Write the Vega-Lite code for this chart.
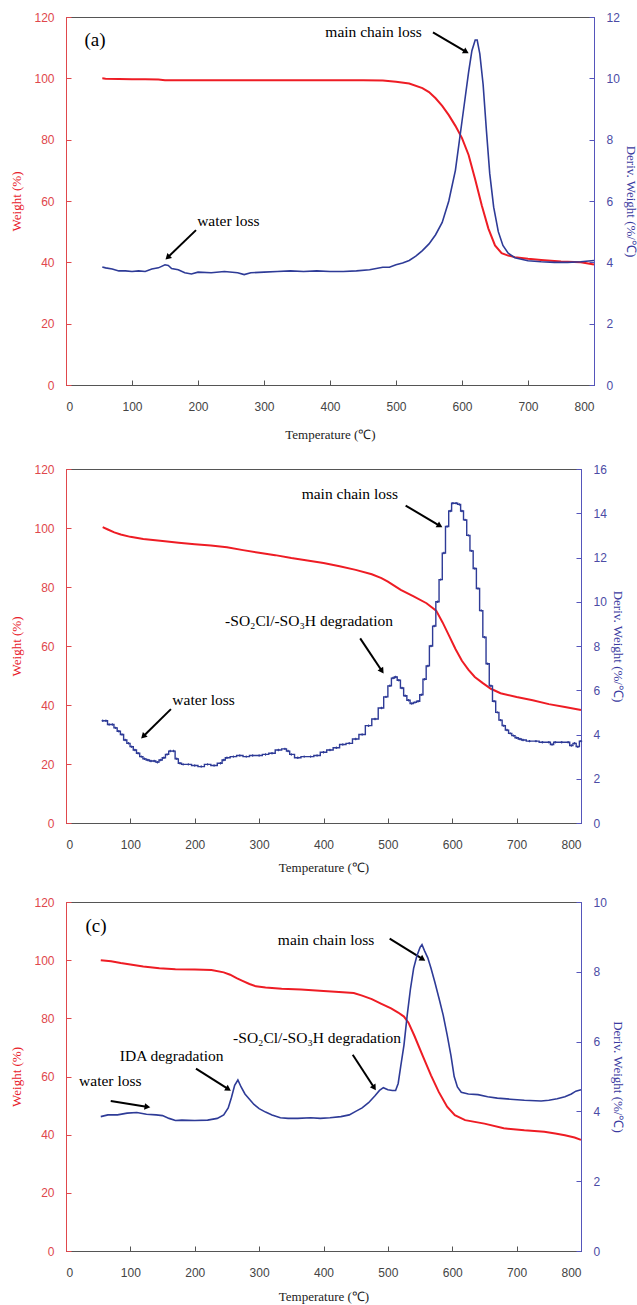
{
"$schema": "https://vega.github.io/schema/vega-lite/v6.json",
"padding": {"left": 10, "top": 10, "right": 0, "bottom": 0},
"spacing": 20,
"config": {
  "view": {"stroke": "#555", "strokeWidth": 1},
  "axis": {"grid": false, "labelFont": "Liberation Sans", "labelFontSize": 12, "titleFont": "Liberation Serif", "titleFontSize": 13, "titleFontWeight": "normal", "tickSize": -5}
},
"datasets": {
  "aw": [{"t":55,"w":100},{"t":60,"w":99.9},{"t":80,"w":99.8},{"t":100,"w":99.7},{"t":120,"w":99.7},{"t":140,"w":99.6},{"t":150,"w":99.4},{"t":200,"w":99.4},{"t":250,"w":99.4},{"t":300,"w":99.4},{"t":350,"w":99.4},{"t":400,"w":99.4},{"t":450,"w":99.4},{"t":480,"w":99.3},{"t":500,"w":98.9},{"t":520,"w":98.3},{"t":540,"w":96.8},{"t":550,"w":95.5},{"t":560,"w":93.5},{"t":570,"w":91},{"t":580,"w":88},{"t":590,"w":84.5},{"t":600,"w":80.5},{"t":610,"w":75},{"t":620,"w":67},{"t":630,"w":58.5},{"t":640,"w":51},{"t":650,"w":45.5},{"t":660,"w":43},{"t":670,"w":42.2},{"t":680,"w":41.7},{"t":700,"w":41.2},{"t":720,"w":40.8},{"t":750,"w":40.3},{"t":780,"w":40},{"t":800,"w":39.3}],
  "ad": [{"t":55,"d":3.85},{"t":60,"d":3.82},{"t":70,"d":3.78},{"t":80,"d":3.72},{"t":90,"d":3.72},{"t":100,"d":3.7},{"t":110,"d":3.72},{"t":120,"d":3.7},{"t":130,"d":3.78},{"t":140,"d":3.82},{"t":150,"d":3.92},{"t":155,"d":3.9},{"t":160,"d":3.8},{"t":170,"d":3.76},{"t":180,"d":3.66},{"t":190,"d":3.62},{"t":200,"d":3.68},{"t":220,"d":3.66},{"t":240,"d":3.7},{"t":260,"d":3.66},{"t":270,"d":3.6},{"t":280,"d":3.66},{"t":300,"d":3.68},{"t":320,"d":3.7},{"t":340,"d":3.72},{"t":360,"d":3.7},{"t":380,"d":3.72},{"t":400,"d":3.7},{"t":420,"d":3.7},{"t":440,"d":3.72},{"t":460,"d":3.76},{"t":470,"d":3.8},{"t":480,"d":3.84},{"t":490,"d":3.84},{"t":500,"d":3.92},{"t":510,"d":3.98},{"t":520,"d":4.06},{"t":530,"d":4.2},{"t":540,"d":4.38},{"t":550,"d":4.6},{"t":560,"d":4.9},{"t":570,"d":5.3},{"t":580,"d":6.0},{"t":590,"d":7.0},{"t":600,"d":8.6},{"t":605,"d":9.4},{"t":610,"d":10.2},{"t":615,"d":10.9},{"t":620,"d":11.25},{"t":623,"d":11.25},{"t":627,"d":10.8},{"t":632,"d":9.8},{"t":637,"d":8.3},{"t":642,"d":6.9},{"t":648,"d":5.8},{"t":655,"d":5.0},{"t":662,"d":4.55},{"t":670,"d":4.3},{"t":680,"d":4.15},{"t":690,"d":4.1},{"t":700,"d":4.05},{"t":720,"d":4.02},{"t":740,"d":4.0},{"t":760,"d":4.0},{"t":780,"d":4.02},{"t":800,"d":4.06}],
  "a_ann": [
    {"label":"main chain loss","tx":466,"wy":115,"t1":556,"w1":115,"t2":605,"w2":108.8,"ang":120},
    {"label":"water loss","tx":246,"wy":53.5,"t1":197,"w1":50.5,"t2":155,"w2":41.8,"ang":226}
  ],
  "a_tag": [{"label":"(a)","tx":44,"wy":112.4}],
  "bw": [{"t":57,"w":100.3},{"t":65,"w":99.5},{"t":75,"w":98.5},{"t":85,"w":97.8},{"t":100,"w":97},{"t":120,"w":96.3},{"t":150,"w":95.6},{"t":175,"w":95},{"t":200,"w":94.5},{"t":225,"w":94.1},{"t":250,"w":93.5},{"t":275,"w":92.5},{"t":300,"w":91.6},{"t":325,"w":90.8},{"t":350,"w":89.8},{"t":375,"w":89},{"t":400,"w":88.1},{"t":425,"w":87},{"t":450,"w":85.8},{"t":475,"w":84.3},{"t":490,"w":83},{"t":500,"w":81.8},{"t":520,"w":79},{"t":540,"w":76.8},{"t":560,"w":74.5},{"t":575,"w":72},{"t":585,"w":68},{"t":595,"w":63.5},{"t":605,"w":59},{"t":615,"w":55},{"t":625,"w":52},{"t":635,"w":49.5},{"t":647,"w":47.5},{"t":660,"w":45.5},{"t":675,"w":44},{"t":700,"w":42.7},{"t":725,"w":41.6},{"t":750,"w":40.3},{"t":775,"w":39.3},{"t":800,"w":38.3}],
  "bd": [{"t":57,"d":4.62},{"t":62,"d":4.62},{"t":67,"d":4.45},{"t":72,"d":4.45},{"t":77,"d":4.3},{"t":82,"d":4.15},{"t":87,"d":4.0},{"t":92,"d":3.75},{"t":97,"d":3.6},{"t":102,"d":3.45},{"t":107,"d":3.3},{"t":112,"d":3.15},{"t":117,"d":3.0},{"t":122,"d":2.9},{"t":127,"d":2.85},{"t":132,"d":2.8},{"t":137,"d":2.8},{"t":142,"d":2.75},{"t":147,"d":2.85},{"t":152,"d":2.95},{"t":157,"d":3.1},{"t":162,"d":3.25},{"t":167,"d":3.25},{"t":172,"d":2.9},{"t":177,"d":2.7},{"t":182,"d":2.65},{"t":190,"d":2.65},{"t":200,"d":2.6},{"t":210,"d":2.55},{"t":220,"d":2.65},{"t":230,"d":2.6},{"t":240,"d":2.7},{"t":245,"d":2.85},{"t":250,"d":2.95},{"t":260,"d":3.0},{"t":270,"d":3.05},{"t":280,"d":3.0},{"t":290,"d":3.05},{"t":300,"d":3.05},{"t":310,"d":3.1},{"t":320,"d":3.15},{"t":330,"d":3.3},{"t":340,"d":3.35},{"t":345,"d":3.25},{"t":350,"d":3.1},{"t":360,"d":2.95},{"t":370,"d":3.0},{"t":380,"d":3.0},{"t":390,"d":3.05},{"t":400,"d":3.2},{"t":410,"d":3.3},{"t":420,"d":3.4},{"t":430,"d":3.55},{"t":440,"d":3.6},{"t":450,"d":3.8},{"t":460,"d":4.0},{"t":470,"d":4.4},{"t":480,"d":4.7},{"t":490,"d":5.2},{"t":497,"d":5.7},{"t":503,"d":6.2},{"t":508,"d":6.55},{"t":512,"d":6.6},{"t":517,"d":6.45},{"t":522,"d":6.1},{"t":527,"d":5.75},{"t":532,"d":5.55},{"t":537,"d":5.4},{"t":542,"d":5.45},{"t":547,"d":5.5},{"t":552,"d":5.8},{"t":557,"d":6.5},{"t":562,"d":7.1},{"t":567,"d":8.0},{"t":572,"d":8.9},{"t":577,"d":10.0},{"t":582,"d":11.0},{"t":587,"d":12.2},{"t":592,"d":13.4},{"t":597,"d":14.1},{"t":601,"d":14.45},{"t":606,"d":14.45},{"t":611,"d":14.4},{"t":615,"d":14.1},{"t":620,"d":13.7},{"t":625,"d":13.0},{"t":630,"d":12.3},{"t":635,"d":11.5},{"t":640,"d":10.6},{"t":645,"d":9.6},{"t":650,"d":8.4},{"t":655,"d":7.2},{"t":660,"d":6.2},{"t":665,"d":5.5},{"t":670,"d":5.0},{"t":675,"d":4.65},{"t":680,"d":4.4},{"t":685,"d":4.2},{"t":690,"d":4.05},{"t":695,"d":3.95},{"t":700,"d":3.85},{"t":705,"d":3.8},{"t":710,"d":3.75},{"t":720,"d":3.7},{"t":730,"d":3.7},{"t":740,"d":3.65},{"t":750,"d":3.65},{"t":755,"d":3.55},{"t":760,"d":3.65},{"t":770,"d":3.65},{"t":780,"d":3.65},{"t":785,"d":3.5},{"t":790,"d":3.6},{"t":795,"d":3.45},{"t":800,"d":3.7}],
  "b_ann": [
    {"label":"main chain loss","tx":441,"wy":111.4,"t1":527.6,"w1":107.6,"t2":579.4,"w2":100.9,"ang":121},
    {"label":"-SO₂Cl/-SO₃H degradation","tx":377.6,"wy":68.4,"t1":457,"w1":62.6,"t2":490,"w2":51.8,"ang":146},
    {"label":"water loss","tx":213.7,"wy":41.7,"t1":163,"w1":38.6,"t2":121,"w2":29.6,"ang":225}
  ],
  "cw": [{"t":54,"w":100},{"t":70,"w":99.6},{"t":85,"w":99},{"t":100,"w":98.5},{"t":120,"w":97.8},{"t":145,"w":97.2},{"t":170,"w":96.9},{"t":200,"w":96.8},{"t":226,"w":96.6},{"t":245,"w":95.8},{"t":255,"w":95},{"t":265,"w":93.8},{"t":275,"w":92.8},{"t":285,"w":91.8},{"t":295,"w":91},{"t":310,"w":90.6},{"t":335,"w":90.2},{"t":365,"w":89.9},{"t":400,"w":89.4},{"t":430,"w":89},{"t":447,"w":88.7},{"t":460,"w":87.8},{"t":475,"w":86.6},{"t":490,"w":85},{"t":505,"w":83.4},{"t":516,"w":82},{"t":525,"w":80.6},{"t":532,"w":78.5},{"t":541,"w":74.1},{"t":554,"w":67.2},{"t":567,"w":60.4},{"t":579,"w":54.7},{"t":592,"w":49.6},{"t":604,"w":46.7},{"t":620,"w":45},{"t":650,"w":43.8},{"t":680,"w":42.2},{"t":712,"w":41.5},{"t":743,"w":41},{"t":760,"w":40.4},{"t":775,"w":39.8},{"t":790,"w":39},{"t":800,"w":38.2}],
  "cd": [{"t":54,"d":3.85},{"t":65,"d":3.9},{"t":80,"d":3.9},{"t":95,"d":3.95},{"t":110,"d":3.97},{"t":125,"d":3.92},{"t":140,"d":3.9},{"t":150,"d":3.88},{"t":160,"d":3.8},{"t":170,"d":3.74},{"t":180,"d":3.75},{"t":200,"d":3.74},{"t":220,"d":3.75},{"t":235,"d":3.8},{"t":245,"d":3.9},{"t":252,"d":4.1},{"t":257,"d":4.4},{"t":262,"d":4.75},{"t":267,"d":4.9},{"t":272,"d":4.7},{"t":278,"d":4.5},{"t":285,"d":4.35},{"t":292,"d":4.2},{"t":300,"d":4.08},{"t":310,"d":3.98},{"t":320,"d":3.9},{"t":333,"d":3.82},{"t":345,"d":3.8},{"t":360,"d":3.8},{"t":380,"d":3.82},{"t":395,"d":3.8},{"t":410,"d":3.82},{"t":427,"d":3.85},{"t":440,"d":3.9},{"t":450,"d":4.0},{"t":460,"d":4.1},{"t":470,"d":4.25},{"t":480,"d":4.45},{"t":487,"d":4.6},{"t":493,"d":4.68},{"t":500,"d":4.62},{"t":507,"d":4.6},{"t":512,"d":4.6},{"t":516,"d":4.8},{"t":520,"d":5.3},{"t":525,"d":5.9},{"t":530,"d":6.75},{"t":535,"d":7.5},{"t":540,"d":8.1},{"t":545,"d":8.45},{"t":550,"d":8.7},{"t":553,"d":8.78},{"t":557,"d":8.6},{"t":562,"d":8.4},{"t":567,"d":8.1},{"t":573,"d":7.7},{"t":580,"d":7.2},{"t":586,"d":6.75},{"t":592,"d":6.2},{"t":598,"d":5.6},{"t":603,"d":5.0},{"t":608,"d":4.7},{"t":614,"d":4.55},{"t":625,"d":4.5},{"t":640,"d":4.48},{"t":655,"d":4.42},{"t":670,"d":4.38},{"t":690,"d":4.35},{"t":712,"d":4.32},{"t":738,"d":4.3},{"t":750,"d":4.32},{"t":763,"d":4.36},{"t":775,"d":4.42},{"t":785,"d":4.5},{"t":792,"d":4.58},{"t":800,"d":4.62}],
  "c_ann": [
    {"label":"main chain loss","tx":404,"wy":106.9,"t1":502.8,"w1":107.4,"t2":553,"w2":100.5,"ang":122},
    {"label":"-SO₂Cl/-SO₃H degradation","tx":390,"wy":73.3,"t1":445.4,"w1":67.5,"t2":478,"w2":56.4,"ang":147},
    {"label":"IDA degradation","tx":164.2,"wy":67,"t1":201.9,"w1":62.7,"t2":251,"w2":55.8,"ang":122},
    {"label":"water loss","tx":68.8,"wy":58.3,"t1":69.5,"w1":51.6,"t2":125,"w2":49.6,"ang":99}
  ],
  "c_tag": [{"label":"(c)","tx":46.7,"wy":111.7}]
},
"vconcat": [
  {
    "width": 528, "height": 368,
    "layer": [
      {"layer": [
        {"data": {"name": "aw"}, "mark": {"type": "line", "color": "#ee1c24", "strokeWidth": 2},
         "encoding": {
           "x": {"field": "t", "type": "quantitative", "title": "Temperature (℃)", "scale": {"domain": [0, 800]}, "axis": {"values": [0,100,200,300,400,500,600,700,800], "labelColor": "#444", "domainColor": "#555", "tickColor": "#555", "labelPadding": 21, "titlePadding": 16, "titleColor": "#222"}},
           "y": {"field": "w", "type": "quantitative", "title": "Weight (%)", "scale": {"domain": [0, 120]}, "axis": {"values": [0,20,40,60,80,100,120], "labelColor": "#e0474c", "titleColor": "#e8202a", "domainColor": "#e0474c", "tickColor": "#e0474c", "labelPadding": 17, "titlePadding": 10}}
         }},
        {"data": {"name": "a_ann"}, "mark": {"type": "rule", "color": "black", "strokeWidth": 2},
         "encoding": {"x": {"field": "t1", "type": "quantitative", "title": "Temperature (℃)", "scale": {"domain": [0, 800]}}, "y": {"field": "w1", "type": "quantitative", "title": "Weight (%)", "scale": {"domain": [0, 120]}}, "x2": {"field": "t2"}, "y2": {"field": "w2"}}},
        {"data": {"name": "a_ann"}, "mark": {"type": "point", "shape": "triangle", "filled": true, "color": "black", "size": 45, "opacity": 1},
         "encoding": {"x": {"field": "t2", "type": "quantitative", "title": "Temperature (℃)", "scale": {"domain": [0, 800]}}, "y": {"field": "w2", "type": "quantitative", "title": "Weight (%)", "scale": {"domain": [0, 120]}}, "angle": {"field": "ang", "type": "quantitative", "scale": null}}},
        {"data": {"name": "a_ann"}, "mark": {"type": "text", "font": "Liberation Serif", "fontSize": 15.5, "color": "black"},
         "encoding": {"x": {"field": "tx", "type": "quantitative", "title": "Temperature (℃)", "scale": {"domain": [0, 800]}}, "y": {"field": "wy", "type": "quantitative", "title": "Weight (%)", "scale": {"domain": [0, 120]}}, "text": {"field": "label"}}},
        {"data": {"name": "a_tag"}, "mark": {"type": "text", "font": "Liberation Serif", "fontSize": 19, "color": "black"},
         "encoding": {"x": {"field": "tx", "type": "quantitative", "title": "Temperature (℃)", "scale": {"domain": [0, 800]}}, "y": {"field": "wy", "type": "quantitative", "title": "Weight (%)", "scale": {"domain": [0, 120]}}, "text": {"field": "label"}}}
      ]},
      {"data": {"name": "ad"}, "mark": {"type": "line", "color": "#2e3b97", "strokeWidth": 1.6},
       "encoding": {
         "x": {"field": "t", "type": "quantitative", "title": "Temperature (℃)", "scale": {"domain": [0, 800]}},
         "y": {"field": "d", "type": "quantitative", "title": "Deriv. Weight (%/℃)", "scale": {"domain": [0, 12]}, "axis": {"orient": "right", "values": [0,2,4,6,8,10,12], "labelColor": "#4b4ba5", "titleColor": "#3a3aa0", "domainColor": "#5555bb", "tickColor": "#5555bb", "labelPadding": 17, "titlePadding": 4}}
       }}
    ],
    "resolve": {"scale": {"y": "independent"}}
  },
  {
    "width": 515, "height": 354,
    "layer": [
      {"layer": [
        {"data": {"name": "bw"}, "mark": {"type": "line", "color": "#ee1c24", "strokeWidth": 2},
         "encoding": {
           "x": {"field": "t", "type": "quantitative", "title": "Temperature (℃)", "scale": {"domain": [0, 800]}, "axis": {"values": [0,100,200,300,400,500,600,700,800], "labelColor": "#444", "domainColor": "#555", "tickColor": "#555", "labelPadding": 21, "titlePadding": 11, "titleColor": "#222"}},
           "y": {"field": "w", "type": "quantitative", "title": "Weight (%)", "scale": {"domain": [0, 120]}, "axis": {"values": [0,20,40,60,80,100,120], "labelColor": "#e0474c", "titleColor": "#e8202a", "domainColor": "#e0474c", "tickColor": "#e0474c", "labelPadding": 17, "titlePadding": 10}}
         }},
        {"data": {"name": "b_ann"}, "mark": {"type": "rule", "color": "black", "strokeWidth": 2},
         "encoding": {"x": {"field": "t1", "type": "quantitative", "title": "Temperature (℃)", "scale": {"domain": [0, 800]}}, "y": {"field": "w1", "type": "quantitative", "title": "Weight (%)", "scale": {"domain": [0, 120]}}, "x2": {"field": "t2"}, "y2": {"field": "w2"}}},
        {"data": {"name": "b_ann"}, "mark": {"type": "point", "shape": "triangle", "filled": true, "color": "black", "size": 45, "opacity": 1},
         "encoding": {"x": {"field": "t2", "type": "quantitative", "title": "Temperature (℃)", "scale": {"domain": [0, 800]}}, "y": {"field": "w2", "type": "quantitative", "title": "Weight (%)", "scale": {"domain": [0, 120]}}, "angle": {"field": "ang", "type": "quantitative", "scale": null}}},
        {"data": {"name": "b_ann"}, "mark": {"type": "text", "font": "Liberation Serif", "fontSize": 15.5, "color": "black"},
         "encoding": {"x": {"field": "tx", "type": "quantitative", "title": "Temperature (℃)", "scale": {"domain": [0, 800]}}, "y": {"field": "wy", "type": "quantitative", "title": "Weight (%)", "scale": {"domain": [0, 120]}}, "text": {"field": "label"}}}
      ]},
      {"data": {"name": "bd"}, "mark": {"type": "line", "color": "#2e3b97", "strokeWidth": 1.4, "interpolate": "step", "point": {"shape": "cross", "size": 6, "color": "#2e3b97", "filled": true}},
       "encoding": {
         "x": {"field": "t", "type": "quantitative", "title": "Temperature (℃)", "scale": {"domain": [0, 800]}},
         "y": {"field": "d", "type": "quantitative", "title": "Deriv. Weight (%/℃)", "scale": {"domain": [0, 16]}, "axis": {"orient": "right", "values": [0,2,4,6,8,10,12,14,16], "labelColor": "#4b4ba5", "titleColor": "#3a3aa0", "domainColor": "#5555bb", "tickColor": "#5555bb", "labelPadding": 17, "titlePadding": 4}}
       }}
    ],
    "resolve": {"scale": {"y": "independent"}}
  },
  {
    "width": 515, "height": 349,
    "layer": [
      {"layer": [
        {"data": {"name": "cw"}, "mark": {"type": "line", "color": "#ee1c24", "strokeWidth": 2},
         "encoding": {
           "x": {"field": "t", "type": "quantitative", "title": "Temperature (℃)", "scale": {"domain": [0, 800]}, "axis": {"values": [0,100,200,300,400,500,600,700,800], "labelColor": "#444", "domainColor": "#555", "tickColor": "#555", "labelPadding": 21, "titlePadding": 12, "titleColor": "#222"}},
           "y": {"field": "w", "type": "quantitative", "title": "Weight (%)", "scale": {"domain": [0, 120]}, "axis": {"values": [0,20,40,60,80,100,120], "labelColor": "#e0474c", "titleColor": "#e8202a", "domainColor": "#e0474c", "tickColor": "#e0474c", "labelPadding": 17, "titlePadding": 10}}
         }},
        {"data": {"name": "c_ann"}, "mark": {"type": "rule", "color": "black", "strokeWidth": 2},
         "encoding": {"x": {"field": "t1", "type": "quantitative", "title": "Temperature (℃)", "scale": {"domain": [0, 800]}}, "y": {"field": "w1", "type": "quantitative", "title": "Weight (%)", "scale": {"domain": [0, 120]}}, "x2": {"field": "t2"}, "y2": {"field": "w2"}}},
        {"data": {"name": "c_ann"}, "mark": {"type": "point", "shape": "triangle", "filled": true, "color": "black", "size": 45, "opacity": 1},
         "encoding": {"x": {"field": "t2", "type": "quantitative", "title": "Temperature (℃)", "scale": {"domain": [0, 800]}}, "y": {"field": "w2", "type": "quantitative", "title": "Weight (%)", "scale": {"domain": [0, 120]}}, "angle": {"field": "ang", "type": "quantitative", "scale": null}}},
        {"data": {"name": "c_ann"}, "mark": {"type": "text", "font": "Liberation Serif", "fontSize": 15.5, "color": "black"},
         "encoding": {"x": {"field": "tx", "type": "quantitative", "title": "Temperature (℃)", "scale": {"domain": [0, 800]}}, "y": {"field": "wy", "type": "quantitative", "title": "Weight (%)", "scale": {"domain": [0, 120]}}, "text": {"field": "label"}}},
        {"data": {"name": "c_tag"}, "mark": {"type": "text", "font": "Liberation Serif", "fontSize": 19, "color": "black"},
         "encoding": {"x": {"field": "tx", "type": "quantitative", "title": "Temperature (℃)", "scale": {"domain": [0, 800]}}, "y": {"field": "wy", "type": "quantitative", "title": "Weight (%)", "scale": {"domain": [0, 120]}}, "text": {"field": "label"}}}
      ]},
      {"data": {"name": "cd"}, "mark": {"type": "line", "color": "#2e3b97", "strokeWidth": 1.6},
       "encoding": {
         "x": {"field": "t", "type": "quantitative", "title": "Temperature (℃)", "scale": {"domain": [0, 800]}},
         "y": {"field": "d", "type": "quantitative", "title": "Deriv. Weight (%/℃)", "scale": {"domain": [0, 10]}, "axis": {"orient": "right", "values": [0,2,4,6,8,10], "labelColor": "#4b4ba5", "titleColor": "#3a3aa0", "domainColor": "#5555bb", "tickColor": "#5555bb", "labelPadding": 17, "titlePadding": 4}}
       }}
    ],
    "resolve": {"scale": {"y": "independent"}}
  }
]
}
